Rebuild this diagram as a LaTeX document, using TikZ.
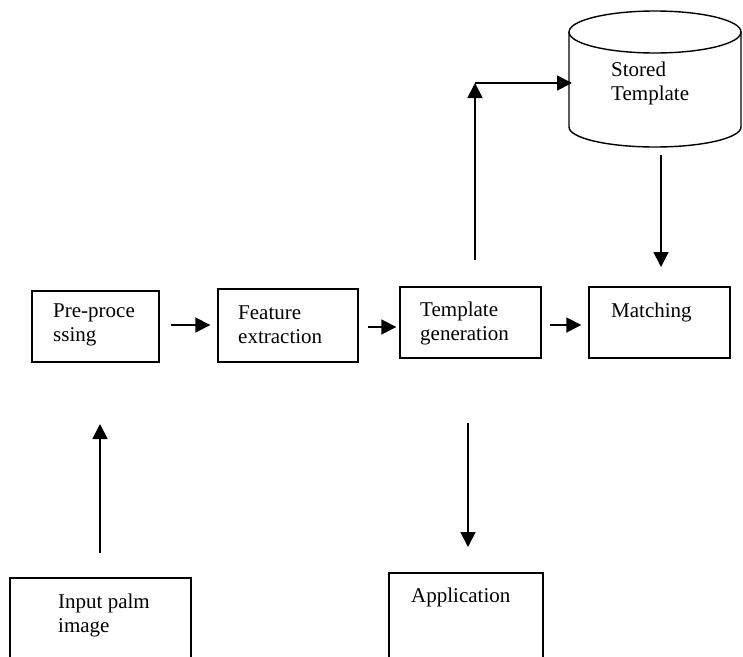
\documentclass[tikz,border=0pt]{standalone}
\usepackage{fontspec}
\setmainfont{Liberation Serif}
\usetikzlibrary{arrows.meta,calc}
\begin{document}
\begin{tikzpicture}[x=1pt,y=-1pt,
  box/.style={draw,line width=1.4pt,inner sep=0pt},
  lbl/.style={anchor=west,align=left,inner sep=0pt,font=\fontsize{21}{24}\selectfont},
  arr/.style={line width=1.8pt,-{Triangle[length=15pt,width=15pt]}}]
\useasboundingbox (0,0) rectangle (743,656);
\clip (0,0) rectangle (743,656);
% boxes
\node[box,minimum width=127pt,minimum height=71pt] (pre) at (95.5,326.5) {};
\node[box,minimum width=140pt,minimum height=73pt] (feat) at (288,325.5) {};
\node[box,minimum width=141pt,minimum height=71pt] (tmpl) at (470.5,322.5) {};
\node[box,minimum width=141pt,minimum height=71pt] (match) at (659.5,322.5) {};
\node[box,minimum width=181pt,minimum height=102pt] (input) at (100.5,629) {};
\node[box,minimum width=154pt,minimum height=107pt] (app) at (466,626.5) {};
% texts
\node[lbl] (preT) at (53,325) {Pre-proce\\ssing};
\node[lbl] (featT) at (238,325) {Feature\\extraction};
\node[lbl] (tmplT) at (420,323.5) {Template\\generation};
\node[lbl] (matchT) at (611,312) {Matching};
\node[lbl] (inputT) at (58,615) {Input palm\\image};
\node[lbl] (appT) at (411,597) {Application};
% cylinder
\draw[line width=1.4pt] (569,32) -- (569,127) arc[start angle=180,end angle=0,x radius=86,y radius=20] -- (741,32);
\draw[line width=1.4pt] (655,32) ellipse [x radius=86, y radius=21];
\node[lbl] (storedT) at (611,83) {Stored\\Template};
\coordinate (cylW) at (569,83);
\coordinate (cylS) at (661,147);
% arrows in row
\draw[arr,shorten <=11pt,shorten >=7pt] (pre.east |- 0,325) -- (feat.west |- 0,325);
\draw[arr,shorten <=9pt,shorten >=3pt] (feat.east |- 0,327) -- (tmpl.west |- 0,327);
\draw[arr,shorten <=8pt,shorten >=7pt] (tmpl.east |- 0,325) -- (match.west |- 0,325);
% vertical arrows
\coordinate (inUp) at (100,553);
\draw[arr] (inUp) -- (inUp |- 0,424);
\coordinate (tDown) at (468,423);
\draw[arr] (tDown) -- (tDown |- 0,547);
\coordinate (tUp) at (475,260);
\coordinate (corner) at (475,83);
\draw[arr] (tUp) -- (corner);
\draw[arr,shorten >=-3pt] (corner) -- (cylW);
\coordinate (cDown) at (661,155);
\draw[arr] (cDown) -- (cDown |- 0,267);
\end{tikzpicture}
\end{document}
